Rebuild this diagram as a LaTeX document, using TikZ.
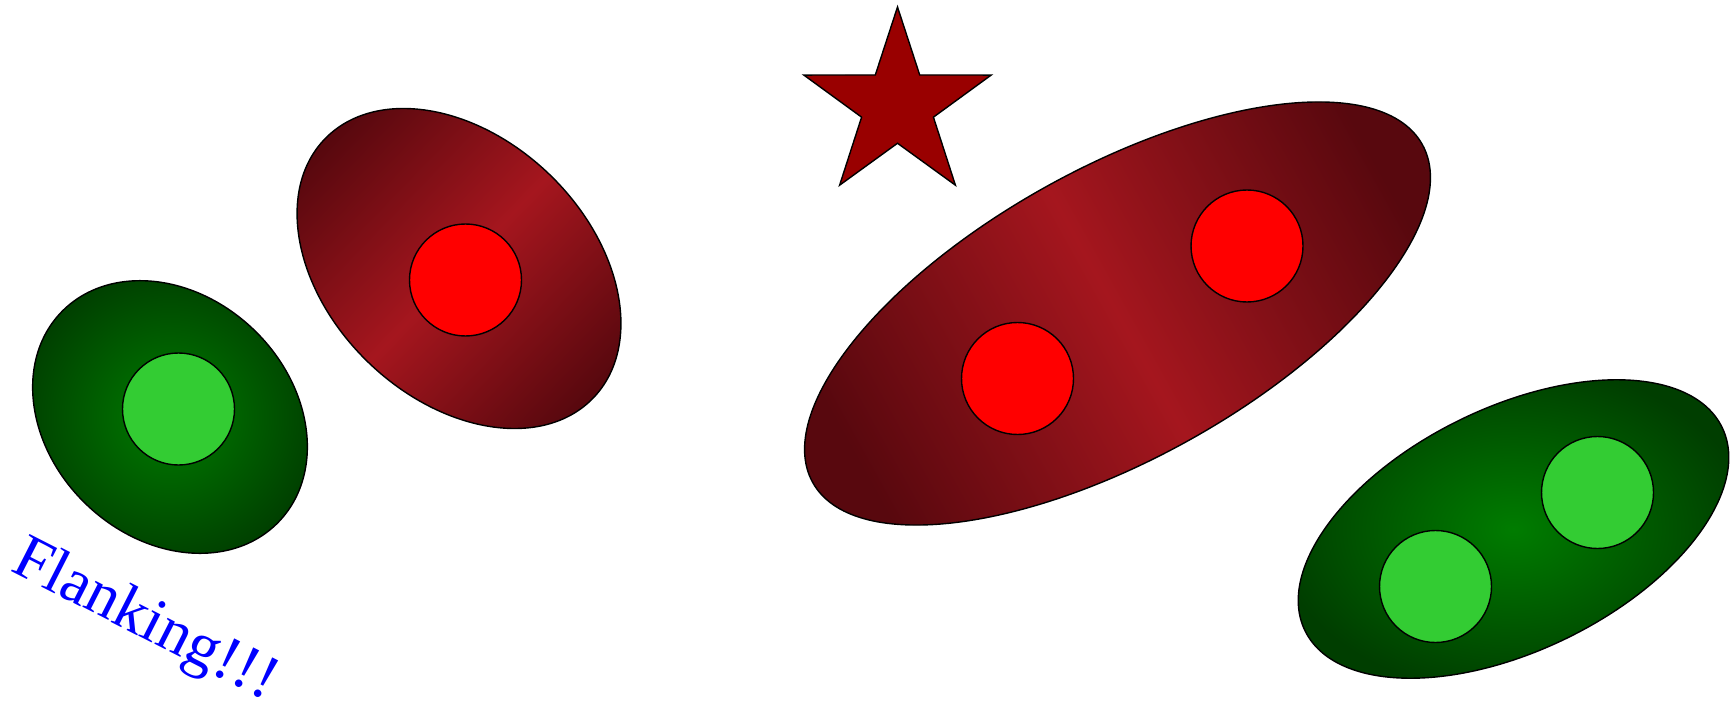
\documentclass[tikz,border=0pt]{standalone}
\usepackage{fontspec}
\newfontfamily\flankfont{Liberation Serif}
\definecolor{starred}{RGB}{153,0,0}
\definecolor{blobmid}{RGB}{165,22,30}
\definecolor{blobend}{RGB}{88,8,14}
\definecolor{leafin}{RGB}{0,124,0}
\definecolor{leafout}{RGB}{0,62,0}
\definecolor{cellgreen}{RGB}{51,204,51}
\begin{document}
\begin{tikzpicture}[
  redblob/.style={draw=black,line width=0.8pt,top color=blobend,bottom color=blobend,middle color=blobmid},
  greenblob/.style={draw=black,line width=0.8pt,inner color=leafin,outer color=leafout},
  cell/.style={circle,draw=black,line width=0.8pt,minimum size=2.24cm,inner sep=0pt},
  redcell/.style={cell,fill=red},
  greencell/.style={cell,fill=cellgreen}]
\useasboundingbox (0,0) rectangle (34.68,14.02);
% left green blob
\shade[greenblob,rotate around={-44:(3.40,5.68)}] (3.40,5.68) ellipse (3.02 and 2.42);
\node[greencell] (gA) at (3.57,5.84) {};
% small red blob
\shade[redblob,shading angle=46,rotate around={-44:(9.18,8.65)}] (9.18,8.65) ellipse (3.73 and 2.61);
\node[redcell] (rA) at (9.31,8.42) {};
% star
\draw[line width=0.8pt,fill=starred,shift={(17.95,11.91)}] (90:1.97)
  \foreach \k in {0,...,3} {-- ({126+72*\k}:0.755) -- ({162+72*\k}:1.97)} -- (54:0.755) -- cycle;
% big red blob
\shade[redblob,shading angle=-61,rotate around={29:(22.35,7.75)}] (22.35,7.75) ellipse (6.97 and 2.91);
\node[redcell] (rB) at (20.35,6.45) {};
\node[redcell] (rC) at (24.94,9.10) {};
% right green blob
\shade[greenblob,rotate around={26:(30.27,3.44)}] (30.27,3.44) ellipse (4.64 and 2.43);
\node[greencell] (gB) at (28.71,2.29) {};
\node[greencell] (gC) at (31.95,4.17) {};
% label
\node[text=blue,font=\flankfont\fontsize{36}{43}\selectfont,rotate=-27,anchor=base west,inner sep=0pt] (flank) at (0.18,2.62) {Flanking!!!};
\end{tikzpicture}
\end{document}
